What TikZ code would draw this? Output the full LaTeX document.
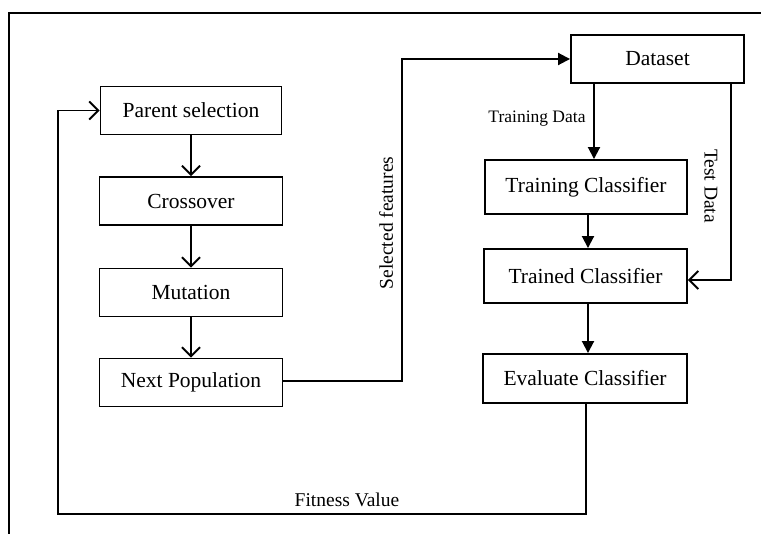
\documentclass[tikz,border=0pt]{standalone}
\usepackage{fontspec}
\setmainfont{Liberation Serif}
\usepackage{tikz}
\usetikzlibrary{positioning,arrows.meta}

\begin{document}
\begin{tikzpicture}[x=1pt,y=-1pt,line width=1.9pt,
    stagebox/.style={draw,rectangle,minimum height=48pt,inner sep=0pt,
      font=\fontsize{21.5}{24}\selectfont},
    openarrow/.style={-{Straight Barb[length=9pt,width=18pt]}},
    fillarrow/.style={-{Triangle[length=12pt,width=12pt]}},
    lbl/.style={font=\fontsize{19.5}{22}\selectfont,inner sep=0pt}]
    \useasboundingbox (0,0) rectangle (761,534);
    % outer frame
    \draw[line width=1.5pt] (761,13) -- (9,13) -- (9,534);
    % genetic algorithm loop
    \node[stagebox,minimum width=181pt] (parent) at (191,110.5) {Parent selection};
    \node[stagebox,minimum width=183pt] (cross) at (191,201) {Crossover};
    \node[stagebox,minimum width=183pt] (mut) at (191,292.5) {Mutation};
    \node[stagebox,minimum width=183pt] (nextpop) at (191,382.5) {Next Population};
    % classifier side
    \node[stagebox,minimum width=173pt] (dataset) at (657.5,59) {Dataset};
    \node[stagebox,minimum width=202pt,minimum height=54pt] (train) at (586,187) {Training Classifier};
    \node[stagebox,minimum width=203pt,minimum height=54pt] (trained) at (585.5,276) {Trained Classifier};
    \node[stagebox,minimum width=204pt,minimum height=49pt] (eval) at (585,378.5) {Evaluate Classifier};
    \coordinate (loop) at (58,514);
    \coordinate (feat) at (402,381);

    \draw[openarrow] (parent) -- (cross);
    \draw[openarrow] (cross) -- (mut);
    \draw[openarrow] (mut) -- (nextpop);
    \draw[fillarrow] (nextpop.east |- feat) -- (feat) |- (dataset.west);
    \draw[fillarrow] ([xshift=8pt]train.north |- dataset.south) -- ([xshift=8pt]train.north);
    \draw[fillarrow] ([xshift=2pt]train.south) -- ([xshift=2.5pt]trained.north);
    \draw[fillarrow] ([xshift=2.5pt]trained.south) -- ([xshift=3pt]eval.north);
    \draw[openarrow] ([xshift=73.5pt]dataset.south) |- ([yshift=-4pt]trained.east);
    \draw[openarrow] ([xshift=1pt]eval.south) |- (loop) |- (parent.west);

    \node[lbl,font=\fontsize{17.5}{20}\selectfont] (trdata) at (537,119) {Training Data};
    \node[lbl,rotate=90] (selfeat) at (386,223) {Selected features};
    \node[lbl,rotate=-90] (tsdata) at (711,186) {Test Data};
    \node[lbl] (fitness) at (347,500) {Fitness Value};
  \end{tikzpicture}
\end{document}
